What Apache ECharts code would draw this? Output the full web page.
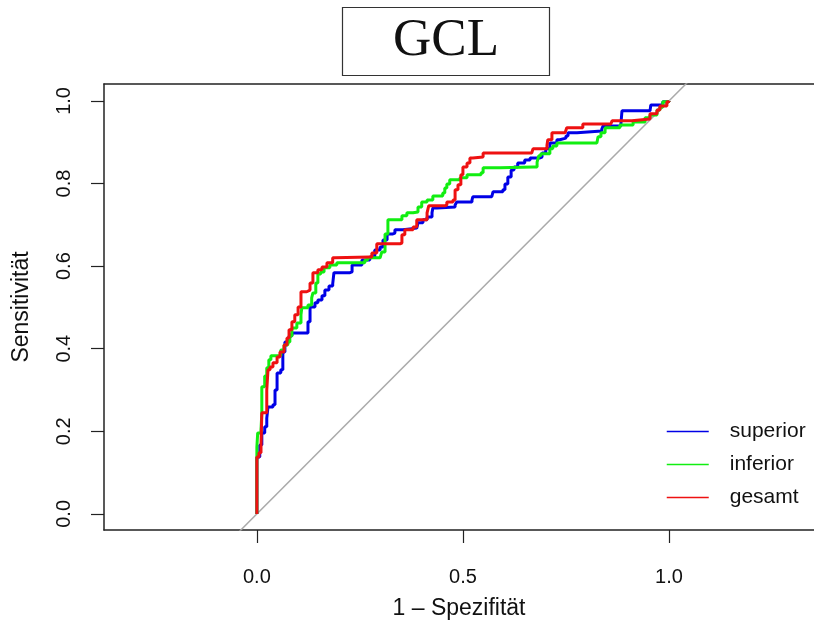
<!DOCTYPE html>
<html>
<head>
<meta charset="utf-8">
<script src="https://cdn.jsdelivr.net/npm/echarts@6/dist/echarts.min.js"></script>
<style>
  html, body { margin: 0; padding: 0; background: #fff; }
  #chart { width: 814px; height: 627px; }
</style>
</head>
<body>
<div id="chart"></div>
<script>
// ROC curves: x = 1 - specificity, y = sensitivity
const supFpr = [0, 0, 0.007, 0.012, 0.019, 0.024, 0.027, 0.039, 0.044, 0.049, 0.058, 0.063, 0.068, 0.078, 0.085, 0.119, 0.124, 0.129, 0.141, 0.148, 0.158, 0.165, 0.175, 0.184, 0.187, 0.226, 0.231, 0.255, 0.274, 0.286, 0.299, 0.306, 0.316, 0.330, 0.335, 0.354, 0.388, 0.391, 0.403, 0.413, 0.425, 0.427, 0.437, 0.481, 0.485, 0.522, 0.524, 0.570, 0.573, 0.597, 0.602, 0.609, 0.617, 0.624, 0.633, 0.650, 0.663, 0.687, 0.692, 0.701, 0.711, 0.728, 0.735, 0.750, 0.755, 0.777, 0.837, 0.840, 0.883, 0.886, 0.954, 0.956, 0.978, 0.985, 1];
const supTpr = [0, 0.138, 0.167, 0.196, 0.211, 0.232, 0.259, 0.264, 0.300, 0.341, 0.349, 0.392, 0.416, 0.431, 0.438, 0.438, 0.465, 0.501, 0.511, 0.518, 0.528, 0.542, 0.552, 0.557, 0.584, 0.586, 0.603, 0.615, 0.622, 0.639, 0.646, 0.663, 0.678, 0.680, 0.688, 0.692, 0.695, 0.705, 0.712, 0.719, 0.729, 0.741, 0.743, 0.748, 0.755, 0.760, 0.768, 0.772, 0.780, 0.785, 0.799, 0.816, 0.833, 0.840, 0.850, 0.857, 0.862, 0.864, 0.874, 0.884, 0.898, 0.906, 0.910, 0.915, 0.923, 0.927, 0.932, 0.939, 0.942, 0.976, 0.976, 0.990, 0.990, 0.998, 1];

const infFpr = [0, 0, 0.002, 0.010, 0.012, 0.012, 0.019, 0.024, 0.029, 0.034, 0.051, 0.058, 0.066, 0.075, 0.080, 0.085, 0.097, 0.107, 0.109, 0.124, 0.133, 0.136, 0.143, 0.148, 0.155, 0.163, 0.177, 0.194, 0.257, 0.262, 0.269, 0.299, 0.303, 0.311, 0.318, 0.347, 0.352, 0.364, 0.379, 0.391, 0.400, 0.413, 0.427, 0.451, 0.456, 0.461, 0.468, 0.493, 0.510, 0.544, 0.549, 0.590, 0.670, 0.680, 0.684, 0.689, 0.711, 0.718, 0.728, 0.825, 0.828, 0.835, 0.845, 0.881, 0.913, 0.942, 0.954, 0.971, 0.978, 0.985, 1];
const infTpr = [0, 0.162, 0.196, 0.203, 0.245, 0.308, 0.334, 0.354, 0.373, 0.383, 0.383, 0.397, 0.409, 0.416, 0.431, 0.450, 0.462, 0.482, 0.499, 0.506, 0.523, 0.535, 0.559, 0.581, 0.586, 0.596, 0.603, 0.608, 0.608, 0.615, 0.620, 0.620, 0.634, 0.678, 0.712, 0.712, 0.722, 0.729, 0.731, 0.743, 0.755, 0.760, 0.770, 0.777, 0.789, 0.799, 0.809, 0.814, 0.821, 0.826, 0.838, 0.840, 0.840, 0.852, 0.867, 0.872, 0.884, 0.891, 0.898, 0.898, 0.913, 0.923, 0.935, 0.942, 0.949, 0.959, 0.966, 0.978, 0.985, 0.998, 1];

const gesFpr = [0, 0, 0.005, 0.010, 0.012, 0.019, 0.024, 0.027, 0.032, 0.039, 0.049, 0.056, 0.066, 0.073, 0.078, 0.085, 0.092, 0.100, 0.107, 0.121, 0.129, 0.136, 0.148, 0.158, 0.170, 0.184, 0.189, 0.274, 0.279, 0.291, 0.347, 0.352, 0.359, 0.379, 0.388, 0.413, 0.417, 0.456, 0.461, 0.476, 0.481, 0.488, 0.495, 0.500, 0.510, 0.517, 0.524, 0.549, 0.667, 0.670, 0.704, 0.706, 0.716, 0.748, 0.752, 0.791, 0.859, 0.862, 0.910, 0.954, 0.971, 0.978, 0.995, 1];
const gesTpr = [0, 0.138, 0.148, 0.162, 0.245, 0.245, 0.300, 0.349, 0.356, 0.366, 0.380, 0.392, 0.409, 0.426, 0.446, 0.465, 0.482, 0.501, 0.538, 0.542, 0.559, 0.584, 0.591, 0.598, 0.608, 0.620, 0.622, 0.622, 0.632, 0.654, 0.656, 0.676, 0.688, 0.695, 0.712, 0.729, 0.746, 0.748, 0.755, 0.760, 0.785, 0.797, 0.821, 0.840, 0.850, 0.862, 0.864, 0.874, 0.874, 0.884, 0.893, 0.906, 0.923, 0.927, 0.935, 0.944, 0.944, 0.952, 0.956, 0.969, 0.978, 0.988, 0.998, 1];

const seriesNames = ['superior', 'inferior', 'gesamt'];
const xTicks = [0, 0.5, 1];
const yTicks = [0, 0.2, 0.4, 0.6, 0.8, 1];
const diagonal = [-0.5, 1.5];

const zip = (xs, ys) => xs.map((x, i) => [x, ys[i]]);

const chart = echarts.init(document.getElementById('chart'));

const labelFont = '"Liberation Sans", Arial, sans-serif';

const curve = (name, xs, ys, color) => ({
  name: name,
  type: 'line',
  data: zip(xs, ys),
  symbol: 'none',
  step: 'end',
  lineStyle: { color: color, width: 3 },
  itemStyle: { color: color },
  z: 3
});

const option = {
  animation: false,
  title: {
    text: 'GCL',
    left: 342,
    top: 7,
    padding: [8, 51, 8, 51],
    borderColor: '#333',
    borderWidth: 1.2,
    textStyle: {
      fontFamily: '"Liberation Serif", "DejaVu Serif", serif',
      fontWeight: 'normal',
      fontSize: 53,
      color: '#111'
    }
  },
  legend: {
    orient: 'vertical',
    left: 661,
    top: 416,
    itemWidth: 42,
    itemHeight: 14,
    itemGap: 12,
    data: seriesNames,
    itemStyle: { opacity: 0 },
    lineStyle: { width: 1.5 },
    textStyle: {
      fontFamily: labelFont,
      fontSize: 21,
      color: '#111',
      padding: [0, 0, 0, 16]
    }
  },
  grid: { left: 104, right: 0, top: 84, bottom: 97 },
  xAxis: [
    {
      type: 'value',
      min: -0.371,
      max: 1.352,
      name: '1 \u2013 Spezifit\u00e4t',
      nameLocation: 'middle',
      nameGap: 67,
      nameTextStyle: { fontFamily: labelFont, fontSize: 23, color: '#111' },
      axisLine: { show: true, onZero: false, lineStyle: { color: '#222', width: 1.5 } },
      axisTick: { show: true, customValues: xTicks, length: 13, lineStyle: { color: '#222', width: 1.2 } },
      axisLabel: {
        customValues: xTicks,
        margin: 37,
        fontFamily: labelFont,
        fontSize: 20,
        color: '#111',
        formatter: v => v.toFixed(1)
      },
      splitLine: { show: false }
    },
    {
      type: 'value',
      position: 'top',
      min: -0.371,
      max: 1.352,
      axisLine: { show: true, onZero: false, lineStyle: { color: '#222', width: 1.5 } },
      axisTick: { show: false },
      axisLabel: { show: false },
      splitLine: { show: false }
    }
  ],
  yAxis: {
    type: 'value',
    min: -0.039,
    max: 1.041,
    name: 'Sensitivit\u00e4t',
    nameLocation: 'middle',
    nameGap: 71,
    nameTextStyle: { fontFamily: labelFont, fontSize: 23, color: '#111' },
    axisLine: { show: true, onZero: false, lineStyle: { color: '#222', width: 1.5 } },
    axisTick: { show: true, customValues: yTicks, length: 13, lineStyle: { color: '#222', width: 1.2 } },
    axisLabel: {
      customValues: yTicks,
      rotate: 90,
      margin: 30,
      fontFamily: labelFont,
      fontSize: 20,
      color: '#111',
      formatter: v => v.toFixed(1)
    },
    splitLine: { show: false }
  },
  series: [
    {
      name: 'diagonal',
      type: 'line',
      data: zip(diagonal, diagonal),
      symbol: 'none',
      clip: true,
      lineStyle: { color: '#aaaaaa', width: 1.5 },
      silent: true,
      z: 1
    },
    curve('superior', supFpr, supTpr, '#0000e6'),
    curve('inferior', infFpr, infTpr, '#11ee11'),
    curve('gesamt', gesFpr, gesTpr, '#ee1111')
  ]
};

chart.setOption(option);
</script>
</body>
</html>
